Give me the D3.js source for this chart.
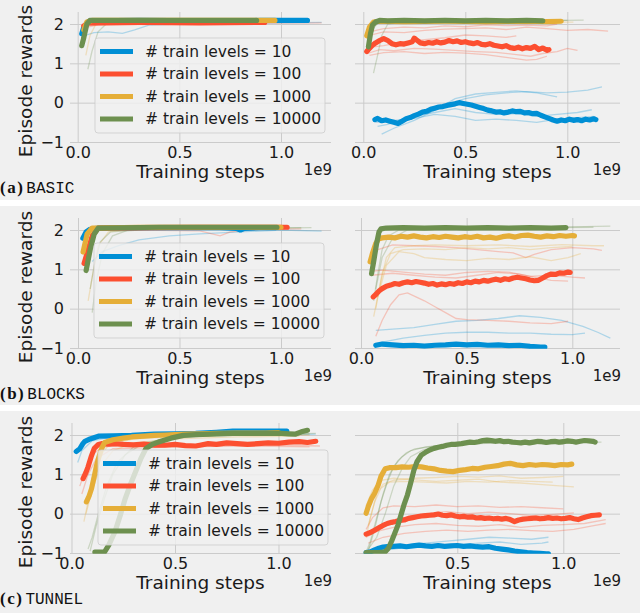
<!DOCTYPE html>
<html>
<head>
<meta charset="utf-8">
<script src="https://cdn.jsdelivr.net/npm/d3@7"></script>
<style>
  body { margin: 0; background: #fff; }
  svg { display: block; }
</style>
</head>
<body>
<svg id="fig" width="640" height="613"></svg>
<script>
// Episode rewards vs training steps (x in units of 1e9)
const levels = ["10", "100", "1000", "10000"];
const colors = ["#008fd5", "#fc4f30", "#e5ae38", "#6d904f"];
const xTicks = [0, 0.5, 1.0];
const yTicks = [-1, 0, 1, 2];
const rowTags = ["(a)", "(b)", "(c)"];
const rowNames = ["BASIC", "BLOCKS", "TUNNEL"];

// ---- (a) BASIC, training ----
const basicTrain10 = [[0.02,1.75],[0.03,1.92],[0.05,2.05],[0.08,2.08],[0.3,2.09],[0.6,2.08],[0.9,2.09],[1.13,2.09]];
const basicTrain100 = [[0.03,1.95],[0.05,2.02],[0.1,2.03],[0.3,2.04],[0.6,2.03],[0.92,2.04]];
const basicTrain1000 = [[0.03,1.85],[0.045,2.05],[0.07,2.09],[0.4,2.09],[0.7,2.09],[0.97,2.09]];
const basicTrain10000 = [[0.02,1.45],[0.03,1.65],[0.045,2.0],[0.06,2.09],[0.3,2.09],[0.6,2.09],[0.88,2.09]];
const basicTrainRuns10 = [[[0.03,1.7],[0.08,1.78],[0.15,1.8],[0.22,1.76],[0.28,1.85],[0.35,1.97],[0.5,2.0],[0.8,2.02],[1.0,2.03],[1.2,2.04]]];
const basicTrainRuns100 = [[[0.03,1.9],[0.1,1.98],[0.5,2.0],[0.9,2.02],[1.2,2.03]]];
const basicTrainRuns1000 = [[[0.04,1.2],[0.06,1.7],[0.09,2.0],[0.5,2.05],[1.1,2.06]]];
const basicTrainRuns10000 = [[[0.05,0.85],[0.07,1.3],[0.1,1.8],[0.14,2.0],[0.3,2.05],[1.0,2.07]]];

// ---- (a) BASIC, test ----
const basicTest10 = [[0.057,-0.43],[0.07,-0.40],[0.09,-0.46],[0.11,-0.44],[0.13,-0.47],[0.15,-0.50],[0.17,-0.53],[0.19,-0.47],[0.21,-0.41],[0.23,-0.38],[0.25,-0.33],[0.27,-0.29],[0.29,-0.24],[0.31,-0.22],[0.33,-0.17],[0.35,-0.14],[0.37,-0.11],[0.39,-0.10],[0.41,-0.07],[0.43,-0.05],[0.45,-0.03],[0.47,0.0],[0.49,-0.02],[0.51,-0.04],[0.53,-0.06],[0.55,-0.09],[0.57,-0.12],[0.59,-0.15],[0.61,-0.19],[0.63,-0.21],[0.65,-0.24],[0.67,-0.23],[0.69,-0.26],[0.71,-0.24],[0.73,-0.21],[0.75,-0.23],[0.77,-0.22],[0.79,-0.26],[0.81,-0.25],[0.83,-0.28],[0.85,-0.27],[0.87,-0.32],[0.89,-0.36],[0.91,-0.40],[0.93,-0.44],[0.95,-0.47],[0.97,-0.44],[0.99,-0.46],[1.01,-0.42],[1.03,-0.45],[1.05,-0.43],[1.07,-0.46],[1.09,-0.42],[1.11,-0.44],[1.13,-0.41],[1.14,-0.43]];
const basicTest100 = [[0.017,1.30],[0.03,1.38],[0.045,1.46],[0.06,1.52],[0.08,1.58],[0.10,1.63],[0.12,1.58],[0.14,1.50],[0.16,1.47],[0.18,1.50],[0.20,1.49],[0.22,1.52],[0.24,1.55],[0.25,1.64],[0.26,1.60],[0.28,1.52],[0.30,1.50],[0.32,1.53],[0.34,1.51],[0.36,1.55],[0.38,1.52],[0.40,1.54],[0.42,1.58],[0.44,1.55],[0.46,1.57],[0.48,1.53],[0.50,1.55],[0.52,1.52],[0.54,1.50],[0.56,1.53],[0.58,1.48],[0.60,1.47],[0.62,1.50],[0.64,1.46],[0.66,1.44],[0.68,1.42],[0.70,1.45],[0.72,1.40],[0.74,1.38],[0.76,1.41],[0.78,1.37],[0.80,1.40],[0.82,1.38],[0.84,1.43],[0.86,1.35],[0.88,1.39],[0.90,1.33],[0.91,1.35]];
const basicTest1000 = [[0.017,1.70],[0.03,1.92],[0.05,2.05],[0.08,2.07],[0.2,2.06],[0.4,2.07],[0.6,2.06],[0.8,2.07],[0.9,2.06],[0.97,2.07]];
const basicTest10000 = [[0.025,1.42],[0.035,1.75],[0.045,1.97],[0.06,2.05],[0.08,2.09],[0.12,2.08],[0.2,2.09],[0.3,2.08],[0.4,2.09],[0.5,2.08],[0.6,2.09],[0.7,2.08],[0.8,2.09],[0.88,2.08]];
const basicTestRuns10 = [
  [[0.07,-0.6],[0.12,-0.55],[0.2,-0.4],[0.3,-0.2],[0.4,-0.05],[0.5,0.1],[0.6,0.2],[0.7,0.25],[0.8,0.28],[0.9,0.25],[1.0,0.27],[1.1,0.32],[1.17,0.4]],
  [[0.09,-0.8],[0.15,-0.65],[0.25,-0.45],[0.35,-0.2],[0.45,0.1],[0.55,0.22],[0.65,0.26],[0.75,0.3],[0.85,0.25],[0.95,0.15]],
  [[0.07,-0.45],[0.15,-0.5],[0.25,-0.35],[0.35,-0.25],[0.45,-0.15],[0.55,-0.25],[0.65,-0.3],[0.75,-0.28],[0.85,-0.35],[0.95,-0.3],[1.05,-0.25],[1.12,-0.18]],
  [[0.06,-0.5],[0.15,-0.45],[0.25,-0.4],[0.35,-0.3],[0.45,-0.35],[0.55,-0.45],[0.65,-0.42],[0.75,-0.45],[0.85,-0.5],[0.95,-0.42],[1.05,-0.38],[1.13,-0.35]]
];
const basicTestRuns100 = [
  [[0.02,1.70],[0.1,1.80],[0.2,1.78],[0.3,1.84],[0.4,1.87],[0.5,1.88],[0.6,1.90],[0.7,1.86],[0.8,1.92],[0.9,1.88],[1.0,1.84],[1.1,1.86],[1.2,1.82]],
  [[0.03,1.80],[0.1,1.88],[0.2,1.92],[0.3,1.90],[0.4,1.95],[0.5,1.93],[0.6,1.98],[0.7,1.96],[0.8,1.97],[0.9,1.95],[0.95,2.0]],
  [[0.02,1.25],[0.08,1.35],[0.15,1.32],[0.25,1.38],[0.35,1.36],[0.45,1.33],[0.55,1.30],[0.65,1.28],[0.75,1.22],[0.82,1.18],[0.88,1.25],[0.95,1.30],[1.0,1.38],[1.05,1.33]],
  [[0.03,1.2],[0.1,1.27],[0.2,1.3],[0.3,1.25],[0.4,1.28],[0.5,1.26],[0.6,1.22],[0.7,1.15],[0.8,1.08],[0.85,1.1],[0.9,1.18]],
  [[0.02,1.4],[0.1,1.45],[0.2,1.55],[0.3,1.6],[0.4,1.65],[0.5,1.72],[0.6,1.7],[0.7,1.66],[0.75,1.7]]
];
const basicTestRuns1000 = [[[0.02,1.8],[0.04,2.0],[0.1,2.04],[0.5,2.06],[1.03,2.05]]];
const basicTestRuns10000 = [
  [[0.05,0.75],[0.07,1.2],[0.09,1.7],[0.12,2.0],[0.2,2.05],[0.5,2.07],[0.8,2.08],[1.08,2.1]],
  [[0.03,1.5],[0.05,1.9],[0.08,2.06],[0.5,2.08],[1.0,2.09]]
];

// ---- (b) BLOCKS, training ----
const blocksTrain10 = [[0.024,1.79],[0.04,1.95],[0.06,2.02],[0.1,2.05],[0.3,2.06],[0.5,2.06],[0.7,2.06],[0.78,2.04],[0.80,2.0],[0.82,2.04],[0.9,2.06],[0.97,2.06]];
const blocksTrain100 = [[0.03,1.15],[0.05,1.5],[0.07,1.85],[0.1,2.05],[0.3,2.06],[0.6,2.07],[0.9,2.07],[1.03,2.07]];
const blocksTrain1000 = [[0.025,1.44],[0.045,1.9],[0.07,2.05],[0.3,2.07],[0.7,2.07],[1.0,2.07]];
const blocksTrain10000 = [[0.04,0.97],[0.06,1.5],[0.08,1.9],[0.1,2.05],[0.4,2.07],[0.7,2.07],[0.98,2.07]];
const blocksTrainRuns10 = [[[0.07,1.2],[0.12,1.45],[0.2,1.6],[0.3,1.75],[0.45,1.85],[0.6,1.9],[0.8,1.95],[1.0,2.0],[1.2,1.97]]];
const blocksTrainRuns100 = [[[0.03,1.95],[0.1,2.0],[0.3,2.0],[0.6,1.98],[0.7,1.85],[0.75,1.95],[0.9,2.02],[1.1,2.03]]];
const blocksTrainRuns1000 = [[[0.05,0.2],[0.07,0.8],[0.1,1.6],[0.15,1.95],[0.3,2.03],[1.0,2.05]]];
const blocksTrainRuns10000 = [
  [[0.06,0.5],[0.08,1.1],[0.11,1.7],[0.16,1.95],[0.4,2.03],[1.1,2.06]],
  [[0.07,-0.1],[0.09,0.7],[0.12,1.4],[0.17,1.85],[0.25,2.0],[1.15,2.06]]
];

// ---- (b) BLOCKS, test ----
const blocksTest10 = [[0.07,-0.93],[0.1,-0.90],[0.15,-0.92],[0.2,-0.94],[0.25,-0.93],[0.3,-0.95],[0.35,-0.93],[0.4,-0.92],[0.45,-0.90],[0.5,-0.92],[0.55,-0.91],[0.6,-0.93],[0.65,-0.92],[0.7,-0.94],[0.75,-0.93],[0.8,-0.96],[0.85,-0.98],[0.87,-0.98]];
const blocksTest100 = [[0.058,0.30],[0.07,0.36],[0.085,0.45],[0.10,0.51],[0.12,0.57],[0.14,0.60],[0.16,0.64],[0.18,0.62],[0.20,0.66],[0.22,0.68],[0.24,0.66],[0.26,0.69],[0.28,0.67],[0.30,0.65],[0.32,0.62],[0.34,0.64],[0.36,0.60],[0.38,0.63],[0.40,0.61],[0.42,0.64],[0.44,0.62],[0.46,0.66],[0.48,0.64],[0.50,0.68],[0.52,0.66],[0.54,0.70],[0.56,0.68],[0.58,0.72],[0.60,0.70],[0.62,0.73],[0.64,0.75],[0.66,0.72],[0.68,0.76],[0.70,0.74],[0.72,0.78],[0.74,0.80],[0.76,0.78],[0.78,0.76],[0.80,0.73],[0.82,0.71],[0.84,0.72],[0.86,0.78],[0.88,0.84],[0.90,0.88],[0.92,0.87],[0.94,0.91],[0.96,0.90],[0.98,0.93],[0.99,0.92]];
const blocksTest1000 = [[0.043,1.19],[0.055,1.42],[0.07,1.66],[0.085,1.78],[0.1,1.80],[0.13,1.82],[0.16,1.80],[0.19,1.84],[0.22,1.82],[0.25,1.85],[0.28,1.82],[0.31,1.80],[0.34,1.83],[0.37,1.81],[0.40,1.84],[0.43,1.82],[0.46,1.80],[0.49,1.83],[0.52,1.81],[0.55,1.84],[0.58,1.80],[0.61,1.82],[0.64,1.79],[0.67,1.83],[0.70,1.85],[0.73,1.82],[0.76,1.86],[0.79,1.87],[0.82,1.84],[0.85,1.82],[0.88,1.85],[0.91,1.83],[0.94,1.86],[0.97,1.84],[1.0,1.86],[1.01,1.85]];
const blocksTest10000 = [[0.05,0.89],[0.06,1.2],[0.074,1.66],[0.085,1.95],[0.095,2.03],[0.12,2.05],[0.2,2.06],[0.3,2.05],[0.4,2.06],[0.5,2.05],[0.6,2.06],[0.7,2.05],[0.8,2.06],[0.9,2.05],[0.97,2.06]];
const blocksTestRuns10 = [
  [[0.07,-0.55],[0.15,-0.52],[0.25,-0.48],[0.35,-0.4],[0.45,-0.32],[0.55,-0.3],[0.65,-0.25],[0.75,-0.18],[0.85,-0.22],[0.95,-0.3],[1.05,-0.45],[1.12,-0.6],[1.18,-0.75]],
  [[0.1,-0.85],[0.2,-0.75],[0.3,-0.68],[0.4,-0.62],[0.5,-0.6],[0.6,-0.6],[0.7,-0.62],[0.8,-0.62],[0.9,-0.65],[1.0,-0.66],[1.06,-0.62]]
];
const blocksTestRuns100 = [
  [[0.07,-0.7],[0.1,-0.3],[0.14,0.1],[0.18,0.35],[0.22,0.4],[0.26,0.3],[0.3,0.2],[0.35,0.05],[0.4,-0.1],[0.45,-0.25],[0.5,-0.28],[0.6,-0.3],[0.7,-0.32],[0.8,-0.36],[0.9,-0.38],[0.98,-0.32]],
  [[0.05,0.95],[0.1,0.98],[0.2,0.93],[0.3,0.88],[0.4,0.85],[0.5,0.92],[0.6,0.95],[0.7,0.93],[0.8,0.82],[0.9,0.85],[1.0,0.8],[1.06,0.78]],
  [[0.05,0.85],[0.15,0.9],[0.25,0.85],[0.35,0.80],[0.45,0.78],[0.55,0.85],[0.65,0.92],[0.75,0.88],[0.82,0.80],[0.9,0.72],[0.98,0.7]],
  [[0.08,1.5],[0.15,1.62],[0.25,1.6],[0.35,1.58],[0.45,1.55],[0.55,1.50],[0.65,1.45],[0.72,1.42],[0.78,1.3],[0.82,1.38],[0.9,1.5],[1.0,1.55],[1.1,1.52],[1.14,1.48]]
];
const blocksTestRuns1000 = [
  [[0.06,-0.2],[0.09,0.6],[0.12,1.3],[0.16,1.55],[0.25,1.6],[0.35,1.62],[0.5,1.6],[0.65,1.62],[0.8,1.58],[0.95,1.63],[1.1,1.6],[1.15,1.6]],
  [[0.07,0.0],[0.1,0.9],[0.14,1.4],[0.2,1.5],[0.3,1.52],[0.4,1.5],[0.5,1.55],[0.6,1.52],[0.7,1.55],[0.8,1.5],[0.9,1.55],[1.0,1.58]],
  [[0.08,0.3],[0.12,1.1],[0.18,1.45],[0.25,1.4],[0.3,1.3],[0.4,1.25],[0.5,1.22],[0.6,1.28],[0.7,1.25],[0.8,1.32],[0.9,1.22],[0.98,1.3],[1.04,1.4]]
];
const blocksTestRuns10000 = [
  [[0.06,0.2],[0.08,0.9],[0.1,1.5],[0.13,1.85],[0.18,2.0],[0.4,2.05],[0.8,2.07],[1.0,2.08],[1.18,2.1]],
  [[0.07,0.5],[0.1,1.3],[0.15,1.8],[0.22,2.0],[0.6,2.05],[1.1,2.07]]
];

// ---- (c) TUNNEL, training ----
const tunnelTrain10 = [[0.023,1.58],[0.04,1.65],[0.055,1.78],[0.065,1.84],[0.09,1.90],[0.13,1.97],[0.2,1.98],[0.29,1.99],[0.4,2.02],[0.5,2.03],[0.6,2.04],[0.7,2.07],[0.78,2.1],[0.9,2.1],[1.04,2.1]];
const tunnelTrain100 = [[0.056,0.89],[0.07,1.05],[0.08,1.19],[0.095,1.45],[0.11,1.66],[0.13,1.76],[0.145,1.78],[0.18,1.77],[0.21,1.78],[0.25,1.76],[0.3,1.75],[0.35,1.77],[0.4,1.74],[0.45,1.74],[0.5,1.76],[0.55,1.73],[0.6,1.72],[0.62,1.74],[0.66,1.78],[0.7,1.76],[0.75,1.8],[0.8,1.78],[0.85,1.76],[0.9,1.78],[0.95,1.8],[1.0,1.79],[1.05,1.82],[1.1,1.83],[1.14,1.81],[1.18,1.84]];
const tunnelTrain1000 = [[0.072,0.3],[0.085,0.45],[0.097,0.64],[0.11,0.95],[0.12,1.2],[0.13,1.4],[0.145,1.65],[0.16,1.81],[0.2,1.88],[0.25,1.92],[0.29,1.95],[0.35,1.97],[0.4,1.99],[0.45,2.0],[0.55,2.02],[0.62,2.03],[0.7,2.04],[0.8,2.05],[0.94,2.05],[1.0,2.06]];
const tunnelTrain10000 = [[0.113,-0.98],[0.14,-0.98],[0.16,-0.97],[0.18,-0.8],[0.21,-0.46],[0.235,-0.05],[0.26,0.39],[0.285,0.75],[0.31,1.07],[0.335,1.4],[0.36,1.66],[0.39,1.76],[0.42,1.82],[0.48,1.92],[0.54,1.99],[0.6,2.01],[0.7,2.03],[0.78,2.04],[0.9,2.04],[1.0,2.05],[1.05,2.03],[1.08,2.02],[1.11,2.08],[1.14,2.12]];
const tunnelTrainRuns10 = [[[0.03,1.3],[0.05,1.6],[0.1,1.85],[0.2,1.95],[0.5,2.0],[1.0,2.0],[1.18,2.02]]];
const tunnelTrainRuns100 = [
  [[0.04,0.7],[0.06,1.0],[0.1,1.5],[0.15,1.7],[0.3,1.75],[0.6,1.72],[0.9,1.75],[1.2,1.72]],
  [[0.05,0.5],[0.08,1.0],[0.12,1.4],[0.2,1.65],[0.5,1.7],[0.8,1.72],[1.15,1.7]]
];
const tunnelTrainRuns1000 = [
  [[0.06,-0.2],[0.08,0.3],[0.1,0.9],[0.13,1.4],[0.18,1.75],[0.3,1.9],[0.6,1.98],[1.0,2.0],[1.15,2.0]],
  [[0.07,0.0],[0.1,0.6],[0.14,1.2],[0.2,1.6],[0.3,1.8],[0.5,1.9],[0.8,1.95],[1.1,1.97]]
];
const tunnelTrainRuns10000 = [
  [[0.08,-0.9],[0.1,-0.6],[0.13,0.0],[0.17,0.7],[0.22,1.3],[0.3,1.7],[0.45,1.9],[0.7,2.0],[1.0,2.02],[1.18,2.04]],
  [[0.09,-0.95],[0.12,-0.3],[0.16,0.4],[0.2,1.0],[0.26,1.5],[0.35,1.8],[0.5,1.95],[0.8,2.0],[1.15,2.03]]
];

// ---- (c) TUNNEL, test ----
const tunnelTest10 = [[0.07,-0.99],[0.09,-0.97],[0.11,-0.92],[0.13,-0.88],[0.15,-0.85],[0.17,-0.84],[0.2,-0.83],[0.23,-0.82],[0.26,-0.84],[0.29,-0.82],[0.32,-0.80],[0.35,-0.82],[0.38,-0.83],[0.41,-0.81],[0.44,-0.83],[0.47,-0.82],[0.50,-0.81],[0.53,-0.83],[0.56,-0.82],[0.59,-0.84],[0.62,-0.85],[0.65,-0.84],[0.68,-0.88],[0.71,-0.90],[0.74,-0.92],[0.77,-0.95],[0.80,-0.97],[0.83,-0.99],[0.86,-1.0],[0.89,-1.01],[0.92,-1.02],[0.93,-1.02]];
const tunnelTest100 = [[0.07,-0.52],[0.09,-0.48],[0.11,-0.42],[0.13,-0.36],[0.15,-0.30],[0.17,-0.25],[0.19,-0.22],[0.21,-0.20],[0.23,-0.17],[0.25,-0.16],[0.27,-0.12],[0.29,-0.10],[0.31,-0.08],[0.33,-0.06],[0.35,-0.05],[0.37,-0.04],[0.39,-0.03],[0.41,-0.01],[0.43,-0.04],[0.45,-0.05],[0.47,-0.03],[0.49,-0.06],[0.51,-0.08],[0.53,-0.07],[0.55,-0.09],[0.57,-0.08],[0.59,-0.11],[0.61,-0.10],[0.63,-0.12],[0.65,-0.11],[0.67,-0.13],[0.69,-0.12],[0.71,-0.14],[0.73,-0.12],[0.75,-0.15],[0.77,-0.20],[0.79,-0.16],[0.81,-0.14],[0.83,-0.13],[0.85,-0.12],[0.87,-0.11],[0.89,-0.13],[0.91,-0.12],[0.93,-0.10],[0.95,-0.12],[0.97,-0.11],[0.99,-0.13],[1.01,-0.12],[1.03,-0.10],[1.05,-0.13],[1.07,-0.15],[1.09,-0.11],[1.11,-0.08],[1.13,-0.05],[1.15,-0.04],[1.17,-0.03]];
const tunnelTest1000 = [[0.07,0.01],[0.08,0.18],[0.096,0.39],[0.11,0.52],[0.127,0.73],[0.14,0.95],[0.16,1.14],[0.18,1.17],[0.21,1.17],[0.24,1.19],[0.27,1.18],[0.30,1.20],[0.33,1.19],[0.36,1.16],[0.39,1.14],[0.42,1.10],[0.45,1.08],[0.48,1.07],[0.51,1.10],[0.54,1.12],[0.57,1.15],[0.60,1.14],[0.63,1.18],[0.66,1.20],[0.69,1.22],[0.72,1.26],[0.75,1.28],[0.78,1.24],[0.81,1.22],[0.84,1.25],[0.87,1.23],[0.90,1.25],[0.93,1.24],[0.96,1.22],[0.99,1.25],[1.02,1.24],[1.04,1.26]];
const tunnelTest10000 = [[0.07,-0.99],[0.10,-0.99],[0.13,-0.99],[0.16,-0.97],[0.175,-0.88],[0.19,-0.70],[0.205,-0.50],[0.22,-0.29],[0.235,-0.02],[0.25,0.25],[0.265,0.48],[0.28,0.78],[0.295,1.10],[0.31,1.32],[0.33,1.49],[0.35,1.56],[0.37,1.62],[0.39,1.66],[0.41,1.69],[0.43,1.71],[0.45,1.74],[0.47,1.76],[0.49,1.76],[0.52,1.78],[0.54,1.80],[0.56,1.82],[0.58,1.81],[0.60,1.83],[0.62,1.86],[0.64,1.87],[0.66,1.86],[0.68,1.84],[0.70,1.86],[0.72,1.83],[0.74,1.84],[0.76,1.82],[0.78,1.81],[0.80,1.80],[0.82,1.82],[0.84,1.80],[0.86,1.82],[0.88,1.84],[0.90,1.83],[0.92,1.81],[0.94,1.83],[0.96,1.84],[0.98,1.82],[1.00,1.83],[1.02,1.85],[1.04,1.84],[1.06,1.82],[1.08,1.84],[1.10,1.86],[1.12,1.85],[1.14,1.84],[1.15,1.82]];
const tunnelTestRuns10 = [
  [[0.07,-0.95],[0.15,-0.85],[0.25,-0.8],[0.35,-0.75],[0.45,-0.7],[0.55,-0.65],[0.65,-0.6],[0.75,-0.62],[0.85,-0.65],[0.93,-0.6]],
  [[0.08,-0.98],[0.2,-0.9],[0.3,-0.82],[0.4,-0.78],[0.5,-0.8],[0.6,-0.75],[0.7,-0.72],[0.8,-0.78],[0.9,-0.75],[0.93,-0.72]]
];
const tunnelTestRuns100 = [
  [[0.07,-0.4],[0.1,-0.1],[0.15,0.15],[0.2,0.2],[0.3,0.18],[0.4,0.22],[0.5,0.18],[0.6,0.2],[0.7,0.16],[0.8,0.18],[0.9,0.15],[1.0,0.12]],
  [[0.07,-0.6],[0.12,-0.45],[0.2,-0.35],[0.3,-0.28],[0.4,-0.25],[0.5,-0.3],[0.6,-0.32],[0.7,-0.28],[0.8,-0.35],[0.9,-0.3],[1.0,-0.28],[1.1,-0.25],[1.2,-0.15]],
  [[0.08,-0.75],[0.15,-0.6],[0.25,-0.5],[0.35,-0.45],[0.45,-0.42],[0.55,-0.45],[0.65,-0.42],[0.75,-0.40],[0.85,-0.43],[0.95,-0.45],[1.05,-0.40],[1.15,-0.3],[1.2,-0.25]],
  [[0.07,-0.5],[0.15,-0.3],[0.25,-0.1],[0.35,0.0],[0.45,0.05],[0.55,0.0],[0.65,0.04],[0.75,0.0],[0.85,-0.05],[0.95,-0.02],[1.05,0.02]]
];
const tunnelTestRuns1000 = [
  [[0.07,-0.6],[0.09,-0.1],[0.12,0.5],[0.15,0.75],[0.2,0.85],[0.3,0.9],[0.4,0.92],[0.5,0.95],[0.6,0.93],[0.7,0.96],[0.8,0.9],[0.9,0.92],[1.0,0.95]],
  [[0.08,-0.3],[0.11,0.3],[0.14,0.65],[0.18,0.8],[0.25,0.82],[0.35,0.80],[0.45,0.78],[0.55,0.82],[0.65,0.80],[0.75,0.84],[0.85,0.82],[0.95,0.80]],
  [[0.07,0.2],[0.1,0.6],[0.14,0.85],[0.2,0.90],[0.3,0.86],[0.4,0.82],[0.5,0.85],[0.6,0.88],[0.7,0.8],[0.8,0.78],[0.9,0.74],[1.0,0.70],[1.05,0.68]]
];
const tunnelTestRuns10000 = [
  [[0.07,-0.98],[0.09,-0.7],[0.12,-0.1],[0.15,0.5],[0.18,1.0],[0.22,1.35],[0.26,1.55],[0.30,1.65],[0.40,1.72],[0.50,1.76],[0.60,1.78],[0.70,1.80],[0.80,1.78],[0.90,1.80],[1.0,1.79],[1.1,1.81],[1.18,1.82]],
  [[0.08,-0.95],[0.11,-0.4],[0.14,0.3],[0.17,0.8],[0.20,1.2],[0.24,1.45],[0.28,1.6],[0.35,1.7],[0.45,1.75],[0.60,1.80],[0.80,1.83],[1.0,1.84],[1.15,1.85]],
  [[0.08,-0.9],[0.12,-0.6],[0.16,0.0],[0.20,0.7],[0.24,1.15],[0.28,1.45],[0.34,1.62],[0.42,1.72],[0.55,1.78],[0.7,1.80],[0.85,1.78],[1.0,1.76]]
];

const rows = [
  { train: [basicTrain10, basicTrain100, basicTrain1000, basicTrain10000],
    trainRuns: [basicTrainRuns10, basicTrainRuns100, basicTrainRuns1000, basicTrainRuns10000],
    test: [basicTest10, basicTest100, basicTest1000, basicTest10000],
    testRuns: [basicTestRuns10, basicTestRuns100, basicTestRuns1000, basicTestRuns10000] },
  { train: [blocksTrain10, blocksTrain100, blocksTrain1000, blocksTrain10000],
    trainRuns: [blocksTrainRuns10, blocksTrainRuns100, blocksTrainRuns1000, blocksTrainRuns10000],
    test: [blocksTest10, blocksTest100, blocksTest1000, blocksTest10000],
    testRuns: [blocksTestRuns10, blocksTestRuns100, blocksTestRuns1000, blocksTestRuns10000] },
  { train: [tunnelTrain10, tunnelTrain100, tunnelTrain1000, tunnelTrain10000],
    trainRuns: [tunnelTrainRuns10, tunnelTrainRuns100, tunnelTrainRuns1000, tunnelTrainRuns10000],
    test: [tunnelTest10, tunnelTest100, tunnelTest1000, tunnelTest10000],
    testRuns: [tunnelTestRuns10, tunnelTestRuns100, tunnelTestRuns1000, tunnelTestRuns10000] }
];

// ---- layout (pixels) ----
const rowTop = [0, 206, 411];
const rowBottom = [200, 405, 613];
const leftPlot = [70, 331], rightPlot = [355, 620];
const xRangeLeft = [[77.7, 281], [78, 281], [71.5, 278.5]];
const xRangeRight = [[363.3, 567.3], [361, 572.3], [351.3, 563.3]];
const legendBox = [[95, 38], [94, 37], [98, 39]];
const font = "'DejaVu Sans', sans-serif";

const svg = d3.select("#fig");
svg.append("rect").attr("width", 640).attr("height", 613).attr("fill", "#fff");

const line = (x, y) => d3.line().x(d => x(d[0])).y(d => y(d[1]));

function drawPanel(g, id, off, plot, xr, main, runs, showY) {
  const x = d3.scaleLinear().domain([0, 1]).range(xr);
  const y = d3.scaleLinear().domain([-1, 2]).range([off + 142, off + 24]);
  const top = off + 12, bottom = y(-1.02);

  // grid + tick labels through d3 axes
  const yAxis = d3.axisLeft(y).tickValues(yTicks).tickSize(-(plot[1] - plot[0])).tickPadding(6)
    .tickFormat(d => showY ? (d < 0 ? "\u2212" + Math.abs(d) : d) : "");
  const ya = g.append("g").attr("transform", `translate(${plot[0]},0)`).call(yAxis);
  const xAxis = d3.axisBottom(x).tickValues(xTicks.filter(t => x(t) >= plot[0] && x(t) <= plot[1]))
    .tickSize(-(bottom - top)).tickPadding(4).tickFormat(d3.format(".1f"));
  const xa = g.append("g").attr("transform", `translate(0,${bottom})`).call(xAxis);
  [ya, xa].forEach(a => {
    a.select(".domain").remove();
    a.selectAll(".tick line").attr("stroke", "#cbcbcb").attr("stroke-width", 1);
    a.selectAll(".tick text").attr("fill", "#1a1a1a").style("font-family", font).style("font-size", "16px");
  });

  g.append("clipPath").attr("id", id).append("rect")
    .attr("x", plot[0]).attr("y", top).attr("width", plot[1] - plot[0]).attr("height", bottom - top);
  const lines = g.append("g").attr("clip-path", `url(#${id})`);
  const ln = line(x, y);
  runs.forEach((set, i) => set.forEach(r => {
    lines.append("path").attr("d", ln(r)).attr("fill", "none")
      .attr("stroke", colors[i]).attr("stroke-opacity", 0.28).attr("stroke-width", 1.3);
  }));
  main.forEach((m, i) => {
    lines.append("path").attr("d", ln(m)).attr("fill", "none")
      .attr("stroke", colors[i]).attr("stroke-width", 5.2)
      .attr("stroke-linejoin", "round").attr("stroke-linecap", "round");
  });

  g.append("text").attr("x", (plot[0] + plot[1]) / 2).attr("y", off + 178)
    .attr("text-anchor", "middle").style("font-family", font).style("font-size", "18.5px")
    .attr("fill", "#1a1a1a").text("Training steps");
  g.append("text").attr("x", plot[1] + 1).attr("y", off + 175)
    .attr("text-anchor", "end").style("font-family", font).style("font-size", "15px")
    .attr("fill", "#1a1a1a").text("1e9");
}

rows.forEach((row, r) => {
  const off = rowTop[r];
  const g = svg.append("g");
  g.append("rect").attr("x", 0).attr("y", off).attr("width", 640)
    .attr("height", rowBottom[r] - off).attr("fill", "#f0f0f0");

  drawPanel(g, "clipL" + r, off, leftPlot, xRangeLeft[r], row.train, row.trainRuns, true);
  drawPanel(g, "clipR" + r, off, rightPlot, xRangeRight[r], row.test, row.testRuns, false);

  g.append("text").attr("transform", `translate(32,${off + 81}) rotate(-90)`)
    .attr("text-anchor", "middle").style("font-family", font).style("font-size", "18.5px")
    .attr("fill", "#1a1a1a").text("Episode rewards");

  // legend
  const [lx, ly] = legendBox[r];
  const lg = g.append("g").attr("transform", `translate(${lx},${off + ly})`);
  lg.append("rect").attr("width", 230).attr("height", 95).attr("rx", 3)
    .attr("fill", "#f0f0f0").attr("fill-opacity", 0.8)
    .attr("stroke", "#cccccc").attr("stroke-opacity", 0.8);
  levels.forEach((lv, i) => {
    const cy = 13.5 + i * 22.5;
    lg.append("line").attr("x1", 5).attr("x2", 38).attr("y1", cy).attr("y2", cy)
      .attr("stroke", colors[i]).attr("stroke-width", 5);
    lg.append("text").attr("x", 50).attr("y", cy).attr("dy", "0.35em")
      .style("font-family", font).style("font-size", "15.5px").attr("fill", "#1a1a1a")
      .text("# train levels = " + lv);
  });

  const lab = g.append("text").attr("x", 0).attr("y", off + 193).attr("fill", "#111");
  lab.append("tspan").style("font-family", "'Liberation Serif', serif").style("font-weight", "bold")
    .style("font-size", "17px").attr("letter-spacing", 1.5).text(rowTags[r]);
  lab.append("tspan").attr("dx", 2).style("font-family", "'Liberation Mono', monospace")
    .style("font-size", "16px").text(rowNames[r]);
});
</script>
</body>
</html>
